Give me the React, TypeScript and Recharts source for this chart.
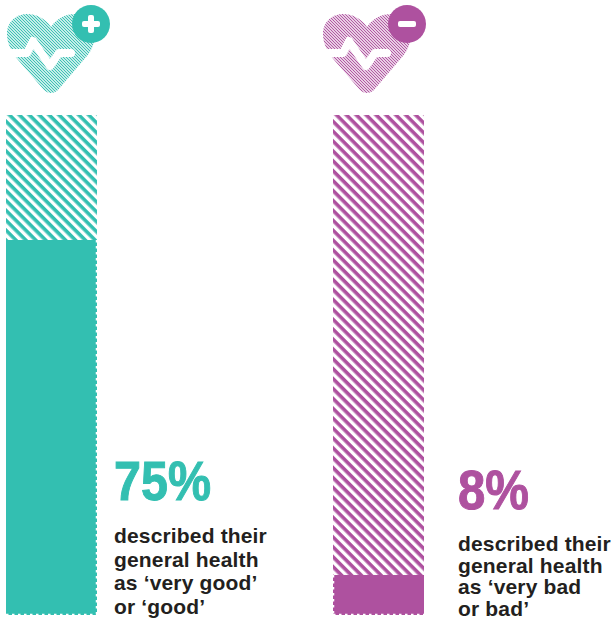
import { Bar, BarChart, Rectangle, XAxis, YAxis } from 'recharts';

const TEAL = '#33bfb1';
const PURPLE = '#ae519f';
const INK = '#231f20';

const categories = ['good health', 'bad health'];
const shares = [75, 8];
const remainders = [25, 92];
const statLabels = ['75%', '8%'];
const statWidths = [97, 71];
const goodLines = ['described their', 'general health', 'as ‘very good’', 'or ‘good’'];
const badLines = ['described their', 'general health', 'as ‘very bad', 'or bad’'];

const HEART =
  'M51 27C45 18 36 14 27 14C15 14 7 23 7 34C7 45 13 54 19 61L44 90C48 94 54 94 58 90L87 56C92 50 95 42 95 34C95 23 87 14 75 14C66 14 57 18 51 27Z';
const PULSE = 'M3 53H27L33 41L50 66L59 53H71';

function Stripes({ id, color, size, width }: { id: string; color: string; size: number; width: number }) {
  return (
    <pattern id={id} width={size} height={size} patternUnits="userSpaceOnUse" patternTransform="rotate(45)">
      <rect width={size} height={width} fill={color} />
    </pattern>
  );
}

// pixel-aligned tile, a rotated one this small turns into bands
function FineStripes({ id, color }: { id: string; color: string }) {
  return (
    <pattern id={id} width={3} height={3} patternUnits="userSpaceOnUse">
      <path d="M-1 -1L4 4M-1 2L1 4M2 -1L4 1" stroke={color} strokeWidth={1.1} fill="none" />
    </pattern>
  );
}

// solid bar with a perforated outer edge and bottom
function PerforatedBar(props: any) {
  const { x, y, width, height, fill, edge } = props;
  const edgeX = edge === 'left' ? x + 0.5 : x + width - 0.5;
  const dash = { stroke: '#fff', strokeWidth: 1.5, strokeDasharray: '2.5 3.5' };
  return (
    <g>
      <Rectangle x={x} y={y} width={width} height={height} fill={fill} />
      <line x1={edgeX} y1={y} x2={edgeX} y2={y + height} {...dash} />
      <line x1={x} y1={y + height - 0.5} x2={x + width} y2={y + height - 0.5} {...dash} />
    </g>
  );
}

// one column: solid share stacked under a hatched remainder
function Column({ index, left, color, edge }: { index: number; left: number; color: string; edge: string }) {
  const data = [{ name: categories[index], share: shares[index], rest: remainders[index] }];
  const hatchId = `hatch-${index}`;
  return (
    <div style={{ position: 'absolute', left, top: 0 }}>
      <BarChart
        width={91}
        height={619}
        data={data}
        barCategoryGap={0}
        margin={{ top: 115, right: 0, bottom: 4, left: 0 }}
      >
        <defs>
          <Stripes id={hatchId} color={color} size={7} width={3.6} />
        </defs>
        <XAxis dataKey="name" hide />
        <YAxis hide domain={[0, 100]} />
        <Bar
          dataKey="share"
          stackId="a"
          fill={color}
          isAnimationActive={false}
          shape={(p: any) => <PerforatedBar {...p} edge={edge} />}
        />
        <Bar dataKey="rest" stackId="a" fill={`url(#${hatchId})`} isAnimationActive={false} />
      </BarChart>
    </div>
  );
}

function HeartIcon({ id, x, color, minus }: { id: string; x: number; color: string; minus: boolean }) {
  return (
    <g transform={`translate(${x} 0)`}>
      <path d={HEART} fill={`url(#${id})`} />
      <path d={PULSE} fill="none" stroke="#fff" strokeWidth={8} strokeLinecap="round" strokeLinejoin="round" />
      <circle cx={91} cy={24} r={19} fill={color} />
      <rect x={82} y={21} width={18} height={6} rx={2} fill="#fff" />
      {!minus && <rect x={88} y={15} width={6} height={18} rx={2} fill="#fff" />}
    </g>
  );
}

function Callout({ x, statY, stat, statWidth, color, lines, firstY, step }: {
  x: number;
  statY: number;
  stat: string;
  statWidth: number;
  color: string;
  lines: string[];
  firstY: number;
  step: number;
}) {
  return (
    <g fontFamily="'Liberation Sans', Arial, sans-serif" fontWeight="bold">
      <text
        x={x}
        y={statY}
        fontSize={56}
        fill={color}
        stroke={color}
        strokeWidth={1}
        textLength={statWidth}
        lengthAdjust="spacingAndGlyphs"
      >
        {stat}
      </text>
      {lines.map((line, i) => (
        <text key={line} x={x} y={firstY + i * step} fontSize={21} letterSpacing={0.16} fill={INK}>
          {line}
        </text>
      ))}
    </g>
  );
}

export default function App() {
  return (
    <div style={{ position: 'absolute', left: 0, top: 0, width: 614, height: 619, background: '#fff' }}>
      <Column index={0} left={6} color={TEAL} edge="right" />
      <Column index={1} left={333} color={PURPLE} edge="left" />
      <svg width={614} height={619} style={{ position: 'absolute', left: 0, top: 0 }}>
        <defs>
          <FineStripes id="fine-teal" color={TEAL} />
          <FineStripes id="fine-purple" color={PURPLE} />
        </defs>
        <HeartIcon id="fine-teal" x={0} color={TEAL} minus={false} />
        <HeartIcon id="fine-purple" x={316} color={PURPLE} minus />
        <Callout x={114} statY={499.5} stat={statLabels[0]} statWidth={statWidths[0]} color={TEAL} lines={goodLines} firstY={543} step={23.7} />
        <Callout x={458} statY={508.5} stat={statLabels[1]} statWidth={statWidths[1]} color={PURPLE} lines={badLines} firstY={551} step={21.5} />
      </svg>
    </div>
  );
}
